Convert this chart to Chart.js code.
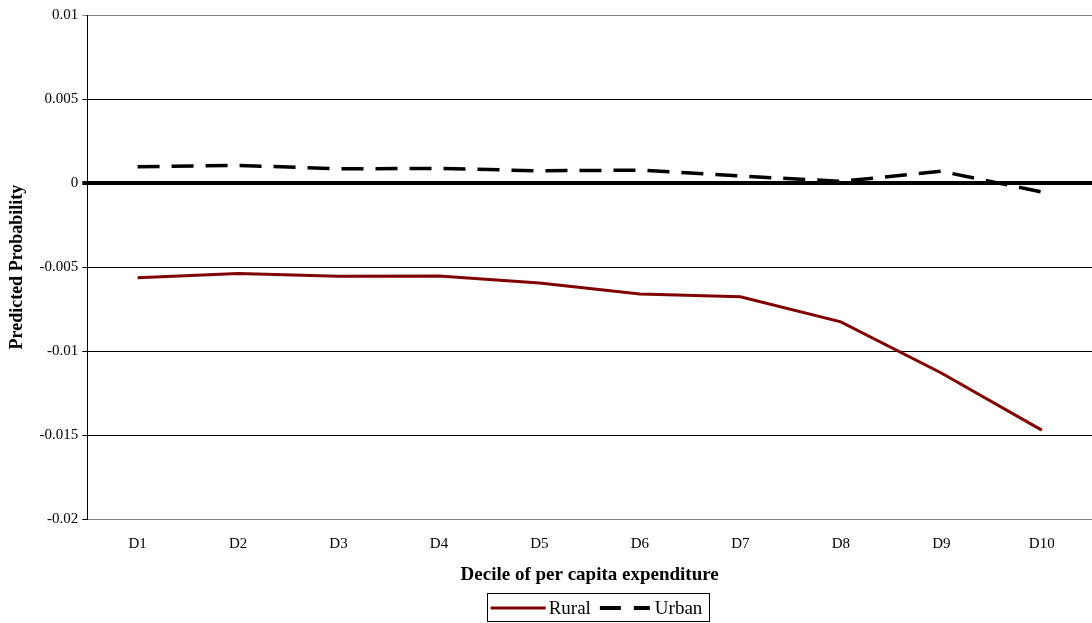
<!DOCTYPE html>
<html lang="en">
<head>
  <meta charset="UTF-8" />
  <title>Predicted Probability by Decile</title>
  <script src="https://cdn.jsdelivr.net/npm/chart.js"></script>
  <style>
    html, body { margin: 0; padding: 0; background: #ffffff; }
    #wrap { width: 1092px; height: 623px; }
  </style>
</head>
<body>
<div id="wrap"><canvas id="probChart"></canvas></div>

<script>
  const deciles = ["D1", "D2", "D3", "D4", "D5", "D6", "D7", "D8", "D9", "D10"];
  const rural = [-0.00564, -0.00538, -0.00554, -0.00553, -0.00595, -0.0066, -0.00677, -0.00826, -0.0113, -0.0147];
  const urban = [0.00097, 0.00105, 0.00085, 0.00087, 0.00073, 0.00077, 0.00042, 0.00010, 0.00070, -0.00053];
  const seriesNames = ["Rural", "Urban"];

  const serif = "'Liberation Serif', 'Times New Roman', serif";

  // boxed legend under the axis title
  const boxLegend = {
    id: 'boxLegend',
    afterDraw(chart) {
      const ctx = chart.ctx;
      const y = 608;
      ctx.save();
      ctx.font = "19px " + serif;
      const w1 = ctx.measureText(seriesNames[0]).width;
      const w2 = ctx.measureText(seriesNames[1]).width;
      const total = 4 + 55 + 3 + w1 + 9 + 50 + 5 + w2 + 6;
      const left = 597.5 - total / 2;
      ctx.strokeStyle = "#000";
      ctx.lineWidth = 1;
      ctx.strokeRect(Math.round(left) + 0.5, 593.5, Math.round(total), 28);

      let x = left + 4;
      ctx.strokeStyle = "#800000";
      ctx.lineWidth = 3;
      ctx.beginPath(); ctx.moveTo(x, y); ctx.lineTo(x + 55, y); ctx.stroke();
      x += 55 + 3;
      ctx.fillStyle = "#000";
      ctx.textBaseline = "middle";
      ctx.fillText(seriesNames[0], x, y + 1);
      x += w1 + 9;
      ctx.strokeStyle = "#000";
      ctx.lineWidth = 4;
      ctx.setLineDash([21, 13]);
      ctx.beginPath(); ctx.moveTo(x, y); ctx.lineTo(x + 50, y); ctx.stroke();
      ctx.setLineDash([]);
      x += 50 + 5;
      ctx.fillText(seriesNames[1], x, y + 1);
      ctx.restore();
    }
  };

  new Chart(document.getElementById('probChart'), {
    type: 'line',
    data: {
      labels: deciles,
      datasets: [{
        label: seriesNames[0],
        data: rural,
        borderColor: "#800000",
        borderWidth: 3,
        pointRadius: 0,
        tension: 0,
        fill: false
      }, {
        label: seriesNames[1],
        data: urban,
        borderColor: "#000000",
        borderWidth: 3.5,
        borderDash: [22, 12],
        pointRadius: 0,
        tension: 0,
        fill: false
      }]
    },
    options: {
      responsive: true,
      maintainAspectRatio: false,
      animation: false,
      layout: { padding: { top: 15, right: 0, bottom: 37, left: 7 } },
      plugins: {
        legend: { display: false },
        tooltip: { enabled: false }
      },
      scales: {
        x: {
          offset: true,
          grid: { display: false, drawTicks: false },
          border: { color: "#808080", width: 1 },
          ticks: { color: "#000", font: { family: serif, size: 15 }, padding: 16, maxRotation: 0 },
          title: {
            display: true,
            text: "Decile of per capita expenditure",
            color: "#000",
            font: { family: serif, size: 19, weight: 'bold' },
            padding: { top: -6, bottom: 0 }
          }
        },
        y: {
          min: -0.02,
          max: 0.01,
          ticks: {
            stepSize: 0.005,
            color: "#000",
            font: { family: serif, size: 15 },
            padding: 4,
            callback: v => String(parseFloat(v.toFixed(3)))
          },
          grid: {
            color: ctx => (ctx.tick && (ctx.tick.value === 0.01) ? "#808080" : "#000"),
            lineWidth: ctx => (ctx.tick && Math.abs(ctx.tick.value) < 1e-9 ? 4 : 1),
            tickLength: 5
          },
          border: { color: "#000", width: 1 },
          title: {
            display: true,
            text: "Predicted Probability",
            color: "#000",
            font: { family: serif, size: 18, weight: 'bold' },
            padding: { top: 0, bottom: 7 }
          }
        }
      }
    },
    plugins: [boxLegend]
  });
</script>
</body>
</html>
